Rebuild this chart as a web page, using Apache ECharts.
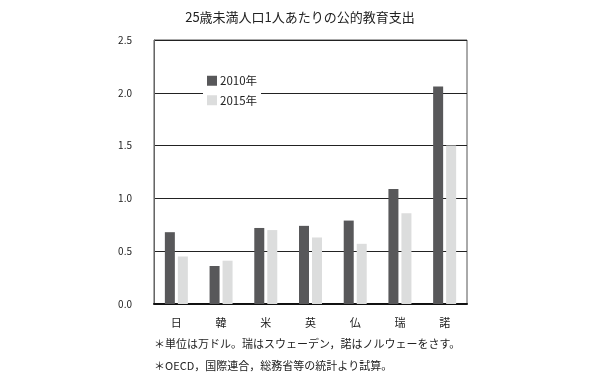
<!DOCTYPE html>
<html><head><meta charset="utf-8">
<script src="https://cdn.jsdelivr.net/npm/echarts@6/dist/echarts.min.js"></script>
<style>html,body{margin:0;padding:0;background:#fff}#c{width:600px;height:380px}</style>
</head><body><div id="c"></div>
<script>
const categories = ['日','韓','米','英','仏','瑞','諾'];
const series2010 = [0.68, 0.36, 0.72, 0.74, 0.79, 1.09, 2.06];
const series2015 = [0.45, 0.41, 0.70, 0.63, 0.57, 0.86, 1.50];
const yTicks = [0, 0.5, 1.0, 1.5, 2.0, 2.5];
const titleText = '25歳未満人口1人あたりの公的教育支出';
const notes = ['＊単位は万ドル。瑞はスウェーデン，諾はノルウェーをさす。', '＊OECD，国際連合，総務省等の統計より試算。'];
const font = '"Noto Sans CJK JP", "Noto Sans", sans-serif';

const chart = echarts.init(document.getElementById('c'), null, {renderer: 'canvas'});
chart.setOption({
  animation: false,
  textStyle: {fontFamily: font},
  title: {text: titleText, left: 'center', top: 6,
    textStyle: {fontSize: 13, fontWeight: 'normal', color: '#222', fontFamily: font}},
  grid: {left: 154, right: 133, top: 40, bottom: 76, show: true, borderColor: '#555', borderWidth: 1, backgroundColor: 'transparent'},
  legend: {orient: 'vertical', left: 203, top: 72, backgroundColor: '#fff', padding: [3, 4, 3, 4],
    itemWidth: 10, itemHeight: 10, itemGap: 8, icon: 'rect',
    textStyle: {fontSize: 11.5, color: '#222', fontFamily: font, padding: [0,0,0,-2]},
    data: ['2010年', '2015年']},
  xAxis: {type: 'category', data: categories,
    axisLine: {lineStyle: {color: '#111', width: 2}},
    axisTick: {show: false},
    axisLabel: {fontSize: 11, color: '#222', margin: 13, fontFamily: font}},
  yAxis: {type: 'value', min: 0, max: 2.5, interval: 0.5,
    axisLine: {show: true, lineStyle: {color: '#666', width: 1}},
    axisTick: {show: false},
    splitLine: {lineStyle: {color: '#222', width: 1}},
    axisLabel: {fontSize: 10, color: '#222', margin: 22, fontFamily: font,
      formatter: v => yTicks.includes(v) ? v.toFixed(1) : ''}},
  series: [
    {name: '2010年', type: 'bar', data: series2010, barWidth: 10, barGap: '30%',
      itemStyle: {color: '#58585a'}},
    {name: '2015年', type: 'bar', data: series2015, barWidth: 10,
      itemStyle: {color: '#dcdddd'}}
  ],
  graphic: [
    {type: 'text', left: 154, top: 338, style: {text: notes[0], fontSize: 11, fill: '#222', fontFamily: font}},
    {type: 'text', left: 154, top: 360, style: {text: notes[1], fontSize: 11, fill: '#222', fontFamily: font}}
  ]
});
</script></body></html>
